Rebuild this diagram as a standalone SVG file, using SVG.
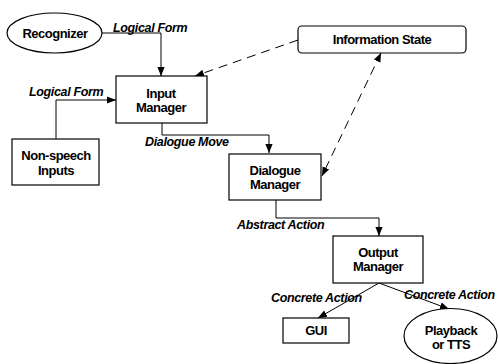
<svg xmlns="http://www.w3.org/2000/svg" width="498" height="364" viewBox="0 0 498 364">
<defs>
<style>
.box{fill:#fff;stroke:#000;stroke-width:1.2}
.t{font-family:"Liberation Sans",Arial,sans-serif;font-weight:bold;font-size:13px;text-anchor:middle;fill:#000;letter-spacing:-0.5px}
.l{font-family:"Liberation Sans",Arial,sans-serif;font-weight:bold;font-style:italic;font-size:12.5px;fill:#000;letter-spacing:-0.35px}
.c{fill:none;stroke:#000;stroke-width:1}
.d{fill:none;stroke:#000;stroke-width:1;stroke-dasharray:9,6}
</style>
<marker id="ah" viewBox="0 0 10 10" refX="10" refY="5" markerWidth="9" markerHeight="9" markerUnits="userSpaceOnUse" orient="auto-start-reverse">
<path d="M0,1 L10,5 L0,9 Z" fill="#000"/>
</marker>
</defs>
<rect width="498" height="364" fill="#fff"/>
<g id="connectors">
<polyline class="c" points="102,33 161,33 161,76" marker-end="url(#ah)"/>
<polyline class="c" points="56,139 56,100 116,100" marker-end="url(#ah)"/>
<polyline class="c" points="162,123 162,135 269,135 269,153" marker-end="url(#ah)"/>
<polyline class="c" points="276,200 276,218 379,218 379,236" marker-end="url(#ah)"/>
<line class="c" x1="379" y1="283" x2="318" y2="318" marker-end="url(#ah)"/>
<line class="c" x1="379" y1="283" x2="449" y2="309" marker-end="url(#ah)"/>
<line class="d" x1="298" y1="40" x2="195" y2="76" marker-end="url(#ah)"/>
<line class="d" x1="381" y1="53" x2="322" y2="176" marker-start="url(#ah)" marker-end="url(#ah)"/>
<text class="l" x="113" y="32">Logical Form</text>
<text class="l" x="29" y="96">Logical Form</text>
<text class="l" x="145" y="146">Dialogue Move</text>
<text class="l" x="237" y="229">Abstract Action</text>
<text class="l" x="271" y="302">Concrete Action</text>
<text class="l" x="404" y="299">Concrete Action</text>
</g>
<g id="recognizer">
<ellipse class="box" cx="54.5" cy="33" rx="47.5" ry="20"/>
<text class="t" x="55" y="38">Recognizer</text>
</g>
<g id="input-manager">
<rect class="box" x="116" y="76" width="91" height="47"/>
<text class="t" x="161" y="98">Input</text>
<text class="t" x="161" y="112">Manager</text>
</g>
<g id="non-speech">
<rect class="box" x="12" y="139" width="87" height="46"/>
<text class="t" x="56" y="160">Non-speech</text>
<text class="t" x="56" y="175">Inputs</text>
</g>
<g id="information-state">
<rect class="box" x="298" y="26" width="168" height="27" rx="4"/>
<text class="t" x="382" y="44">Information State</text>
</g>
<g id="dialogue-manager">
<rect class="box" x="229" y="154" width="92" height="46"/>
<text class="t" x="275" y="175">Dialogue</text>
<text class="t" x="275" y="189">Manager</text>
</g>
<g id="output-manager">
<rect class="box" x="333" y="236" width="90" height="47"/>
<text class="t" x="378" y="257">Output</text>
<text class="t" x="378" y="271">Manager</text>
</g>
<g id="gui">
<rect class="box" x="283" y="318" width="66" height="25"/>
<text class="t" x="316" y="335">GUI</text>
</g>
<g id="playback">
<ellipse class="box" cx="450.5" cy="336" rx="46.5" ry="27.5"/>
<text class="t" x="451" y="335">Playback</text>
<text class="t" x="451" y="349">or TTS</text>
</g>
</svg>
